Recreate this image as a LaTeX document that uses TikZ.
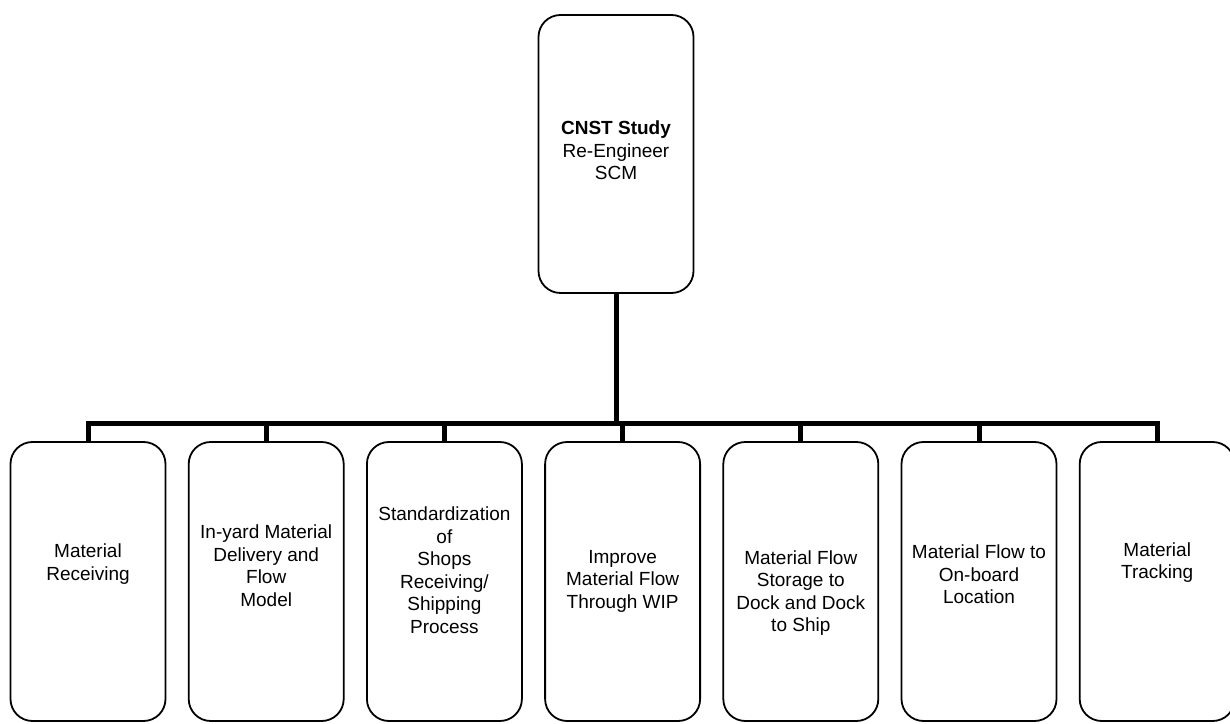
\documentclass[tikz,border=0pt]{standalone}
\usepackage{fontspec}
\setmainfont{Liberation Sans}
\usetikzlibrary{positioning, calc}

\begin{document}
\begin{tikzpicture}[x=1pt, y=1pt,
    box/.style={draw, line width=1.8pt, rounded corners=22pt, minimum width=155pt, minimum height=279pt, inner sep=0pt},
    lbl/.style={align=center, inner sep=0pt, font=\fontsize{19}{22.5}\selectfont},
    trunk/.style={line width=5pt}]
\useasboundingbox (0,0) rectangle (1230,723);

% Top: the study box
\node[box, minimum height=278pt] (study) at (616,569) {};
\node[lbl] (studytxt) at (616,572.5) {\textbf{CNST Study}\\Re-Engineer\\SCM};

% Bottom row of task boxes
\foreach \i in {1,...,7} {
    \pgfmathsetmacro{\x}{88 + 178.2*(\i-1)}
    \node[box] (b\i) at (\x,141.5) {};
}

% Labels, shifted inside each box
\foreach \i/\dy/\txt in {1/17.5/{Material\\Receiving},
                         2/16/{In-yard Material\\Delivery and\\Flow\\Model},
                         3/11.5/{Standardization\\of\\Shops\\Receiving/\\Shipping\\Process},
                         4/0.5/{Improve\\Material Flow\\Through WIP},
                         5/-11.5/{Material Flow\\Storage to\\Dock and Dock\\to Ship},
                         6/7/{Material Flow to\\On-board\\Location},
                         7/19/{Material\\Tracking}} {
    \node[lbl] (t\i) at ($(b\i.center)+(0,\dy)$) {\txt};
}

% Connectors: trunk, bus and drops
\draw[trunk] (study.south) -- ++(0,-130) coordinate (bus);
\foreach \i in {1,...,7} {
    \draw[trunk] (bus) -| (b\i.north);
}
\end{tikzpicture}
\end{document}
